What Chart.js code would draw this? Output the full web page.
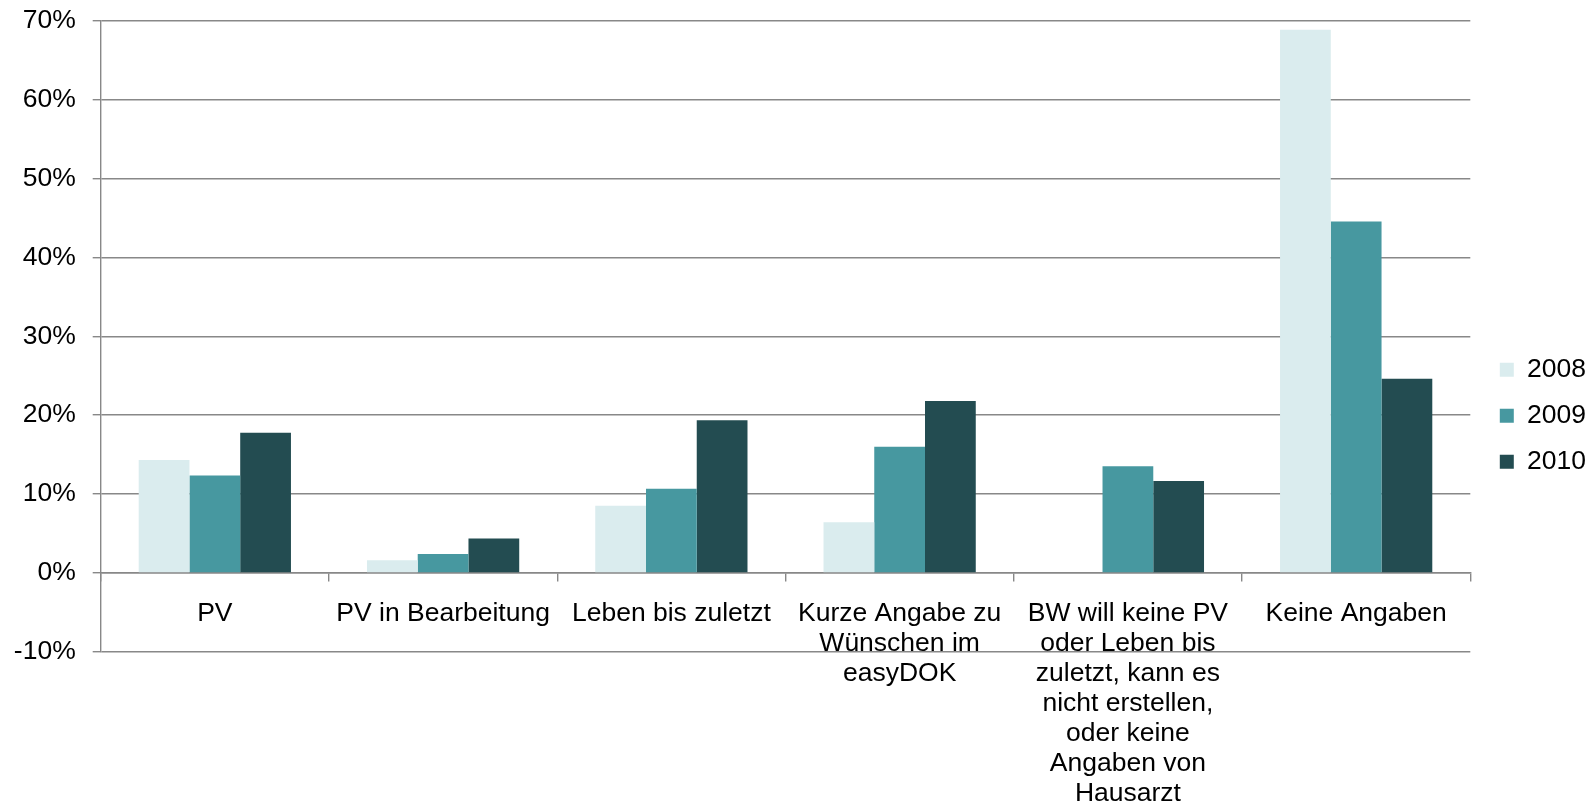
<!DOCTYPE html>
<html>
<head>
<meta charset="utf-8">
<title>Patientenverfügung 2008-2010</title>
<script src="https://cdn.jsdelivr.net/npm/chart.js@4/dist/chart.umd.min.js"></script>
<style>
  html, body { margin: 0; padding: 0; background: #fff; }
  #wrap { width: 1596px; height: 811px; position: relative; }
</style>
</head>
<body>
<div id="wrap"><canvas id="pvChart"></canvas></div>
<script>
// Categories (multi-line labels as arrays)
const categories = [
  "PV",
  "PV in Bearbeitung",
  "Leben bis zuletzt",
  ["Kurze Angabe zu", "Wünschen im", "easyDOK"],
  ["BW will keine PV", "oder Leben bis", "zuletzt, kann es", "nicht erstellen,", "oder keine", "Angaben von", "Hausarzt"],
  "Keine Angaben"
];

// Series values in percent
const years = ["2008", "2009", "2010"];
const values2008 = [14.3, 1.6, 8.5, 6.4, 0, 68.85];
const values2009 = [12.35, 2.4, 10.65, 16.0, 13.5, 44.55];
const values2010 = [17.75, 4.35, 19.35, 21.8, 11.65, 24.6];
const colors = ["#daecee", "#4798a0", "#234c51"];

// Y axis ticks
const yMin = -10;
const yMax = 70;
const yStep = 10;

const gridColor = "#888888";
const fontFamily = "'Liberation Sans', Arial, sans-serif";
const fontSize = 26.5;
Chart.defaults.font.family = fontFamily;
Chart.defaults.color = "#000";

const ctx = document.getElementById("pvChart").getContext("2d");
const pvChart = new Chart(ctx, {
  type: "bar",
  data: {
    labels: categories,
    datasets: [
      { label: years[0], data: values2008, backgroundColor: colors[0] },
      { label: years[1], data: values2009, backgroundColor: colors[1] },
      { label: years[2], data: values2010, backgroundColor: colors[2] }
    ]
  },
  options: {
    responsive: true,
    maintainAspectRatio: false,
    animation: false,
    layout: { padding: { top: 20.7, left: 0, right: 0, bottom: 0 } },
    datasets: {
      bar: { categoryPercentage: 0.667, barPercentage: 1.0, borderWidth: 0 }
    },
    plugins: {
      title: { display: false },
      tooltip: { enabled: false },
      legend: {
        position: "right",
        labels: {
          boxWidth: 14,
          boxHeight: 14,
          padding: 19.5,
          color: "#000",
          font: { size: fontSize, family: fontFamily }
        }
      }
    },
    scales: {
      // category axis crosses the value axis at 0
      x: {
        type: "category",
        position: { y: 0 },
        grid: {
          offset: true,
          drawOnChartArea: false,
          drawTicks: true,
          tickLength: 8,
          color: gridColor,
          lineWidth: 1.4
        },
        border: { display: true, color: gridColor, width: 1.4 },
        ticks: {
          maxRotation: 0,
          autoSkip: false,
          padding: 18,
          color: "#000",
          font: { size: fontSize, family: fontFamily, lineHeight: 1.13 }
        }
      },
      y: {
        type: "linear",
        position: "left",
        min: yMin,
        max: yMax,
        afterFit: (scale) => {
          scale.width = 100.7;
          scale.paddingTop = 0;
          scale.paddingBottom = 0;
        },
        grid: {
          color: gridColor,
          lineWidth: 1.4,
          drawTicks: true,
          tickLength: 8
        },
        border: { display: true, color: gridColor, width: 1.4 },
        ticks: {
          stepSize: yStep,
          padding: 17,
          color: "#000",
          font: { size: fontSize, family: fontFamily },
          callback: (v) => v + "%"
        }
      },
      // invisible spacer axes to reserve room under the plot and before the legend
      x2: {
        type: "category",
        position: "bottom",
        afterFit: (scale) => { scale.height = 159.3; },
        grid: { display: false },
        border: { display: false },
        ticks: { display: false }
      },
      y2: {
        type: "linear",
        position: "right",
        afterFit: (scale) => { scale.width = 10; },
        grid: { display: false },
        border: { display: false },
        ticks: { display: false }
      }
    }
  }
});
</script>
</body>
</html>
